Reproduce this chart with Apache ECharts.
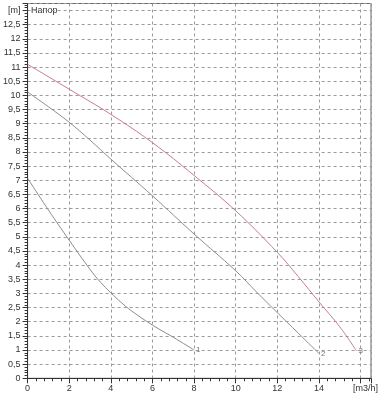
<!DOCTYPE html>
<html><head><meta charset="utf-8">
<script src="https://cdn.jsdelivr.net/npm/echarts@6/dist/echarts.min.js"></script>
<style>html,body{margin:0;padding:0;background:#fff}#c{width:384px;height:400px}</style>
</head><body><div id="c"></div>
<script>
const titleText = 'Напор';
const yUnitLabel = '[m]';
const xUnitLabel = '[m3/h]';
const curveNames = ['1', '2', '3'];
const flowCurve1 = [0, 1, 2, 3, 3.5, 4, 4.5, 5, 6, 7, 8];
const headCurve1 = [7.07, 5.95, 4.88, 3.85, 3.4, 3.02, 2.68, 2.38, 1.88, 1.45, 1.0];
const flowCurve2 = [0, 1, 2, 3, 4, 6, 8, 10, 11, 12, 13, 14];
const headCurve2 = [10.12, 9.6, 9.05, 8.42, 7.75, 6.45, 5.1, 3.8, 3.05, 2.32, 1.6, 0.88];
const flowCurve3 = [0, 2, 4, 6, 8, 10, 12, 13, 14, 15, 15.8];
const headCurve3 = [11.1, 10.22, 9.33, 8.33, 7.17, 5.92, 4.45, 3.6, 2.7, 1.82, 0.97];

const pairs = (xs, ys) => xs.map((x, i) => [x, ys[i]]);
const FONT = 'Liberation Sans, Arial, sans-serif';
const curves = [
  {name: curveNames[0], data: pairs(flowCurve1, headCurve1), color: '#8c8c8c'},
  {name: curveNames[1], data: pairs(flowCurve2, headCurve2), color: '#928a98'},
  {name: curveNames[2], data: pairs(flowCurve3, headCurve3), color: '#c57d89'}
];

const chart = echarts.init(document.getElementById('c'), null, {renderer: 'canvas'});
const axisCommon = {
  type: 'value',
  axisLine: {show: true, onZero: false, lineStyle: {color: '#333', width: 1}},
  axisTick: {show: true, length: 5, lineStyle: {color: '#333'}},
  minorTick: {show: true, splitNumber: 5, length: 3, lineStyle: {color: '#333'}},
  splitLine: {show: true, lineStyle: {type: [3, 3], color: '#9a9a9a', width: 1}},
  minorSplitLine: {show: false}
};
chart.setOption({
  animation: false,
  backgroundColor: '#fff',
  grid: {left: 27.6, right: 13, top: 3.5, bottom: 21.7, show: true, borderColor: '#666', borderWidth: 1, containLabel: false},
  graphic: [{type: 'text', left: 31, top: 6, style: {text: titleText, fontSize: 9, fontFamily: FONT, fill: '#333'}}],
  xAxis: Object.assign({}, axisCommon, {
    min: 0, max: 16.5, interval: 2,
    axisLabel: {
      color: '#333', fontSize: 9, fontFamily: FONT, margin: 6, showMaxLabel: false,
      formatter: v => v === 16 ? '{u|' + xUnitLabel + '}' : String(v),
      rich: {u: {fontSize: 9, fontFamily: FONT, color: '#333', padding: [0, 0, 0, 10]}}
    }
  }),
  yAxis: Object.assign({}, axisCommon, {
    min: 0, max: 13.25, interval: 0.5,
    axisLabel: {
      color: '#333', fontSize: 9, fontFamily: FONT, margin: 7, showMaxLabel: false,
      formatter: v => v === 13 ? yUnitLabel : String(v).replace('.', ',')
    }
  }),
  series: curves.map(c => ({
    type: 'line', name: c.name, data: c.data, smooth: 0.4, symbol: 'none',
    lineStyle: {color: c.color, width: 1},
    endLabel: {show: true, formatter: c.name, color: '#777', fontSize: 8, fontFamily: FONT, distance: 2}
  }))
});
</script></body></html>
